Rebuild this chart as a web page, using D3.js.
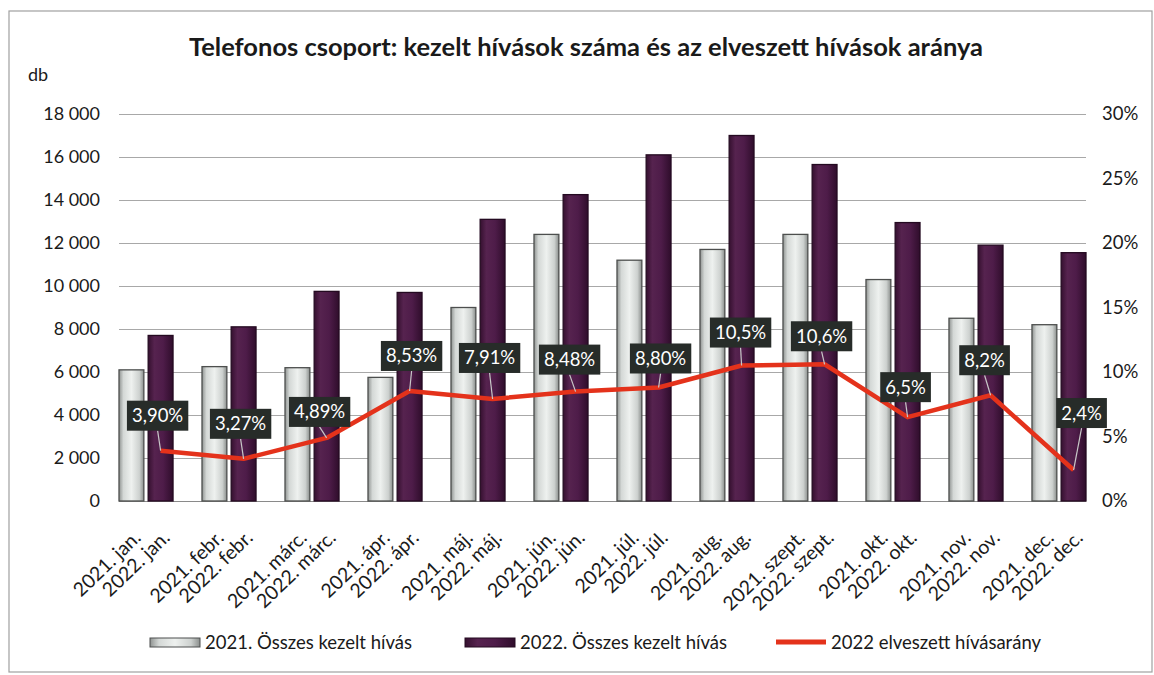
<!DOCTYPE html>
<html>
<head>
<meta charset="utf-8">
<script src="https://cdn.jsdelivr.net/npm/d3@7"></script>
<style>
  html, body { margin: 0; padding: 0; background: #fff; }
  svg { display: block; font-family: Lato, "DejaVu Sans", sans-serif; }
</style>
</head>
<body>
<svg id="chart" width="1154" height="675"></svg>
<script>
// ---- data ----
const months = ["jan.", "febr.", "márc.", "ápr.", "máj.", "jún.", "júl.", "aug.", "szept.", "okt.", "nov.", "dec."];
const calls2021 = [6100, 6250, 6200, 5750, 9000, 12400, 11200, 11700, 12400, 10300, 8500, 8200];
const calls2022 = [7700, 8100, 9750, 9700, 13100, 14250, 16100, 17000, 15650, 12950, 11900, 11550];
const lostRate2022 = [3.90, 3.27, 4.89, 8.53, 7.91, 8.48, 8.80, 10.5, 10.6, 6.5, 8.2, 2.4];
const lostRateLabels = ["3,90%", "3,27%", "4,89%", "8,53%", "7,91%", "8,48%", "8,80%", "10,5%", "10,6%", "6,5%", "8,2%", "2,4%"];
const leftTicks = [0, 2000, 4000, 6000, 8000, 10000, 12000, 14000, 16000, 18000];
const leftTickLabels = ["0", "2 000", "4 000", "6 000", "8 000", "10 000", "12 000", "14 000", "16 000", "18 000"];
const rightTicks = [0, 5, 10, 15, 20, 25, 30];
const rightTickLabels = ["0%", "5%", "10%", "15%", "20%", "25%", "30%"];
const seriesNames = ["2021. Összes kezelt hívás", "2022. Összes kezelt hívás", "2022 elveszett hívásarány"];
const chartTitle = "Telefonos csoport: kezelt hívások száma és az elveszett hívások aránya";
const leftUnit = "db";

// label box offsets (layout), relative to point
const labelOffsets = [[-3,-35],[-3,-35],[-7,-26],[2,-35],[-3,-41],[-6,-32],[2,-29],[-1,-33],[-3,-28],[-2,-30],[-6,-35],[8,-57]];

// ---- layout ----
const svg = d3.select("#chart");
const plotLeft = 119, plotRight = 1086, plotTop = 114, plotBottom = 501;

const x = d3.scaleBand().domain(months).range([plotLeft, plotRight]).paddingInner(0.349).paddingOuter(0).align(0);
const xs = d3.scaleBand().domain(["2021", "2022"]).range([0, x.bandwidth()]).paddingInner(0.148).paddingOuter(0);
const y = d3.scaleLinear().domain([0, 18000]).range([plotBottom, plotTop]);
const y2 = d3.scaleLinear().domain([0, 30]).range([plotBottom, plotTop]);

// frame
svg.append("rect").attr("x", 9).attr("y", 11).attr("width", 1143).attr("height", 661)
  .attr("fill", "#fff").attr("stroke", "#a0a0a0").attr("stroke-width", 1.2);

// gradients
const defs = svg.append("defs");
const g1 = defs.append("linearGradient").attr("id", "gGray").attr("x1", "0").attr("x2", "1").attr("y1", "0").attr("y2", "0");
[["0%", "#8f9391"], ["18%", "#d4d8d6"], ["50%", "#eef1ef"], ["82%", "#cdd1cf"], ["100%", "#8a8e8c"]]
  .forEach(s => g1.append("stop").attr("offset", s[0]).attr("stop-color", s[1]));
const g2 = defs.append("linearGradient").attr("id", "gPurple").attr("x1", "0").attr("x2", "1").attr("y1", "0").attr("y2", "0");
[["0%", "#35102f"], ["25%", "#56234f"], ["60%", "#4e1c49"], ["100%", "#2f0d2b"]]
  .forEach(s => g2.append("stop").attr("offset", s[0]).attr("stop-color", s[1]));

// title
svg.append("text").attr("x", 586).attr("y", 56).attr("text-anchor", "middle")
  .attr("font-size", 25.5).attr("font-weight", "bold").attr("fill", "#1a1a1a").text(chartTitle);
svg.append("text").attr("x", 28).attr("y", 81).attr("font-size", 18).attr("fill", "#1a1a1a").text(leftUnit);

// gridlines
svg.append("g").selectAll("line").data(leftTicks).join("line")
  .attr("x1", plotLeft).attr("x2", plotRight)
  .attr("y1", d => Math.round(y(d)) + 0.5).attr("y2", d => Math.round(y(d)) + 0.5)
  .attr("stroke", d => d === 0 ? "#8a8a8a" : "#a8a8a8").attr("stroke-width", 1.2);

// left axis
const axL = svg.append("g").attr("transform", `translate(${plotLeft},0)`)
  .call(d3.axisLeft(y).tickValues(leftTicks).tickFormat((d, i) => leftTickLabels[i]).tickSize(0).tickPadding(19));
axL.select(".domain").remove();
axL.selectAll("text").attr("font-size", 18).attr("fill", "#1a1a1a").attr("font-family", "Lato, sans-serif");

// right axis
const axR = svg.append("g").attr("transform", `translate(${plotRight},0)`)
  .call(d3.axisRight(y2).tickValues(rightTicks).tickFormat((d, i) => rightTickLabels[i]).tickSize(0).tickPadding(16));
axR.select(".domain").remove();
axR.selectAll("text").attr("font-size", 18.5).attr("fill", "#1a1a1a").attr("font-family", "Lato, sans-serif");

// bars
const bars = svg.append("g");
bars.selectAll("rect.b21").data(months).join("rect").attr("class", "b21")
  .attr("x", d => x(d) + xs("2021")).attr("width", xs.bandwidth())
  .attr("y", (d, i) => y(calls2021[i])).attr("height", (d, i) => y(0) - y(calls2021[i]))
  .attr("fill", "url(#gGray)").attr("stroke", "#4d4f4e").attr("stroke-width", 1.3);
bars.selectAll("rect.b22").data(months).join("rect").attr("class", "b22")
  .attr("x", d => x(d) + xs("2022")).attr("width", xs.bandwidth())
  .attr("y", (d, i) => y(calls2022[i])).attr("height", (d, i) => y(0) - y(calls2022[i]))
  .attr("fill", "url(#gPurple)").attr("stroke", "#240a21").attr("stroke-width", 1.3);

// line
const px = (d, i) => x(months[i]) + xs("2022") + xs.bandwidth() / 2;
const line = d3.line().x((d, i) => px(d, i)).y(d => y2(d));
svg.append("path").datum(lostRate2022).attr("d", line)
  .attr("fill", "none").attr("stroke", "#e4321b").attr("stroke-width", 4.5).attr("stroke-linejoin", "round");

// x labels
const xl = svg.append("g");
months.forEach((m, i) => {
  const cx = x(m) + x.bandwidth() / 2;
  [["2021. " + m, cx - 4, 539], ["2022. " + m, cx + 25, 539]].forEach(t => {
    xl.append("text").attr("transform", `translate(${t[1]},${t[2]}) rotate(-44)`)
      .attr("text-anchor", "end").attr("font-size", 19.5).attr("fill", "#1a1a1a").text(t[0]);
  });
});

// data labels
const lbl = svg.append("g");
lostRate2022.forEach((v, i) => {
  const pxx = px(v, i), pyy = y2(v);
  const cx = pxx + labelOffsets[i][0], cy = pyy + labelOffsets[i][1];
  const g = lbl.append("g");
  const t = g.append("text").attr("x", cx).attr("y", cy + 6.5).attr("text-anchor", "middle")
    .attr("font-size", 18.5).attr("fill", "#ffffff").text(lostRateLabels[i]);
  const bb = t.node().getBBox();
  const w = bb.width + 10, h = 30;
  // leader
  g.insert("line", "text").attr("x1", cx).attr("y1", cy + h / 2).attr("x2", pxx).attr("y2", pyy)
    .attr("stroke", "#c8c8c8").attr("stroke-width", 1.2);
  g.insert("rect", "text").attr("x", cx - w / 2).attr("y", cy - h / 2).attr("width", w).attr("height", h)
    .attr("fill", "#272c29");
});

// legend
const leg = svg.append("g");
const legItems = [
  { x: 150, type: "gray" },
  { x: 465, type: "purple" },
  { x: 776, type: "line" }
];
legItems.forEach((it, i) => {
  if (it.type === "line") {
    leg.append("line").attr("x1", it.x).attr("x2", it.x + 50).attr("y1", 642).attr("y2", 642)
      .attr("stroke", "#e4321b").attr("stroke-width", 5);
  } else {
    leg.append("rect").attr("x", it.x).attr("y", 638).attr("width", 50).attr("height", 9)
      .attr("fill", it.type === "gray" ? "url(#gGray)" : "url(#gPurple)")
      .attr("stroke", it.type === "gray" ? "#4d4f4e" : "#240a21").attr("stroke-width", 1);
  }
  leg.append("text").attr("x", it.x + 55).attr("y", 649).attr("font-size", 18.5).attr("fill", "#1a1a1a").text(seriesNames[i]);
});
</script>
</body>
</html>
